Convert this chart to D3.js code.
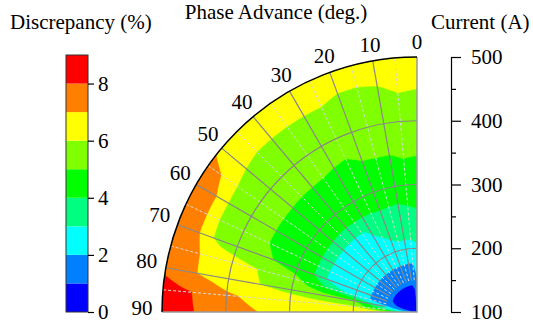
<!DOCTYPE html>
<html>
<head>
<meta charset="utf-8">
<script src="https://cdnjs.cloudflare.com/ajax/libs/d3/7.8.5/d3.min.js"></script>
<style>
  body { margin: 0; background: #fff; }
  svg text { font-family: "Liberation Serif", "Times New Roman", serif; fill: #000; }
</style>
</head>
<body>
<svg id="chart" width="533" height="326" font-family="Liberation Serif"></svg>
<script>
// phase advance angles (deg.) of the measured grid
const phaseAngles = [0, 5, 10, 15, 20, 25, 30, 35, 40, 45, 50, 55, 60, 65, 70, 75, 80, 85, 90];
// currents (A) of the measured grid
const currents = [100, 150, 200, 250, 275, 300, 350, 400, 425, 450, 475, 500];
// discrepancy (%) : one row per phase angle, one value per current
const discrepancy = [
    [1.4, 1.9, 2.85, 3.85, 4.15, 4.5, 5.05, 5.5, 5.75, 6.0, 6.25, 6.45],
    [0.5, 1.2, 2.7, 3.75, 4.1, 4.5, 5.1, 5.55, 5.8, 6.05, 6.3, 6.5],
    [0.4, 1.1, 2.75, 3.6, 4.05, 4.5, 5.0, 5.45, 5.7, 5.9, 6.15, 6.4],
    [0.4, 1.1, 2.8, 3.5, 4.1, 4.6, 5.0, 5.4, 5.65, 5.85, 6.1, 6.35],
    [0.4, 1.1, 2.8, 3.3, 4.2, 4.6, 4.98, 5.4, 5.65, 5.85, 6.1, 6.35],
    [0.4, 1.1, 2.8, 3.15, 4.15, 4.6, 4.85, 5.35, 5.7, 5.95, 6.2, 6.45],
    [0.4, 1.1, 2.8, 3.05, 4.15, 4.6, 4.9, 5.35, 5.7, 5.95, 6.2, 6.45],
    [0.4, 1.1, 2.8, 2.97, 4.15, 4.6, 4.95, 5.35, 5.7, 5.95, 6.2, 6.45],
    [0.4, 1.1, 2.8, 2.95, 4.1, 4.5, 4.95, 5.4, 5.7, 5.95, 6.2, 6.45],
    [0.4, 1.1, 2.8, 2.95, 4.1, 4.5, 4.95, 5.4, 5.7, 5.95, 6.2, 6.5],
    [0.4, 1.1, 2.8, 2.97, 4.15, 4.6, 4.95, 5.45, 5.75, 6.0, 6.3, 6.6],
    [0.4, 1.1, 2.8, 2.97, 4.15, 4.55, 4.95, 5.45, 5.7, 6.1, 7.0, 7.6],
    [0.45, 1.1, 2.8, 2.97, 4.15, 4.6, 4.95, 5.4, 5.6, 6.2, 7.7, 7.9],
    [0.45, 1.1, 2.8, 2.97, 4.15, 4.6, 4.95, 5.4, 5.6, 6.2, 7.7, 7.9],
    [0.5, 1.15, 2.75, 2.95, 4.15, 4.6, 5.1, 5.45, 5.65, 6.25, 7.7, 7.9],
    [0.5, 1.3, 2.6, 4.0, 4.7, 5.35, 5.9, 6.4, 6.7, 6.95, 7.4, 7.75],
    [0.5, 2.2, 5.1, 5.4, 5.55, 5.7, 6.0, 6.5, 6.75, 7.0, 7.4, 7.8],
    [0.5, 3.5, 6.05, 6.3, 6.4, 6.5, 6.75, 7.15, 7.5, 7.95, 8.2, 8.4],
    [0.8, 6.05, 6.2, 6.4, 6.5, 6.6, 7.0, 7.5, 7.75, 8.0, 8.3, 8.5]
];

// colour levels of the discrepancy scale
const levels = [0, 1, 2, 3, 4, 5, 6, 7, 8, 9];
const levelColors = ["#0000ff", "#0080ff", "#00ffff", "#00ff80", "#00ff00",
                     "#80ff00", "#ffff00", "#ff8000", "#ff0000"];
const colorbarTicks = [0, 2, 4, 6, 8];
const angleTicks = [0, 10, 20, 30, 40, 50, 60, 70, 80, 90];
const angleMinor = [5, 15, 25, 35, 45, 55, 65, 75, 85];
const currentTicks = [100, 200, 300, 400, 500];
const currentMinor = [150, 250, 350, 450];
const currentRings = [200, 300, 400];

const svg = d3.select("#chart");
const FONT = "Liberation Serif";

// polar frame : centre at bottom right, 0 deg straight up, 90 deg to the left
const cx = 417, cy = 312, R = 255;
const rScale = d3.scaleLinear().domain([100, 500]).range([0, R]);
const toRad = d => d * Math.PI / 180;
const polar = (deg, cur) => {
    const r = rScale(cur), a = toRad(deg);
    return [cx - r * Math.sin(a), cy - r * Math.cos(a)];
};

// grid index -> data value
const nA = phaseAngles.length, nI = currents.length;
const idxAngle = d3.scaleLinear().domain(d3.range(nA)).range(phaseAngles);
const idxCurrent = d3.scaleLinear().domain(d3.range(nI)).range(currents);

// flatten for d3.contours (x = angle index, y = current index)
let values = [];
for (let j = 0; j < nI; j++)
    for (let i = 0; i < nA; i++) values.push(discrepancy[i][j]);

let contours = d3.contours()
    .size([nA, nI])
    .thresholds(levels.slice(0, levelColors.length))(values);

// contour coords are pixel-edge based: sample i sits at i + 0.5
function project(p) {
    const a = Math.max(0, Math.min(nA - 1, p[0] - 0.5));
    const c = Math.max(0, Math.min(nI - 1, p[1] - 0.5));
    return polar(idxAngle(a), idxCurrent(c));
}

// densify each ring in grid space so straight grid edges bend into arcs
function ringPath(ring) {
    let pts = [];
    for (let k = 0; k < ring.length - 1; k++) {
        const p0 = ring[k], p1 = ring[k + 1];
        const n = Math.max(1, Math.ceil(Math.hypot(p1[0] - p0[0], p1[1] - p0[1]) / 0.05));
        for (let s = 0; s < n; s++) {
            const t = s / n;
            pts.push(project([p0[0] + (p1[0] - p0[0]) * t, p0[1] + (p1[1] - p0[1]) * t]));
        }
    }
    return "M" + pts.map(p => p[0].toFixed(2) + "," + p[1].toFixed(2)).join("L") + "Z";
}

// clip to the quarter disc
svg.append("clipPath").attr("id", "quarter")
    .append("path")
    .attr("d", `M${cx},${cy}L${cx},${cy - R}A${R},${R} 0 0 0 ${cx - R},${cy}Z`);

let plot = svg.append("g").attr("clip-path", "url(#quarter)");

plot.selectAll("path.band")
    .data(contours)
    .enter().append("path")
        .attr("class", "band")
        .attr("fill", (d, i) => levelColors[i])
        .attr("fill-rule", "evenodd")
        .attr("stroke", (d, i) => levelColors[i])
        .attr("stroke-width", 0.5)
        .attr("d", d => d.coordinates.map(poly => poly.map(ringPath).join("")).join(""));

// dashed spokes in between (grid starts at 150 A)
plot.selectAll("line.minor")
    .data(angleMinor)
    .enter().append("line")
        .attr("x1", d => polar(d, 150)[0])
        .attr("y1", d => polar(d, 150)[1])
        .attr("x2", d => polar(d, 500)[0])
        .attr("y2", d => polar(d, 500)[1])
        .attr("stroke", "#d8d8d8")
        .attr("stroke-width", 1)
        .attr("stroke-dasharray", "3,2");

// solid spokes
plot.selectAll("line.major")
    .data(angleTicks.slice(1, -1))
    .enter().append("line")
        .attr("x1", d => polar(d, 150)[0])
        .attr("y1", d => polar(d, 150)[1])
        .attr("x2", d => polar(d, 500)[0])
        .attr("y2", d => polar(d, 500)[1])
        .attr("stroke", "#888")
        .attr("stroke-width", 1.2);

// current rings
const ringArc = r => d3.arc().innerRadius(r).outerRadius(r)
    .startAngle(-Math.PI / 2).endAngle(0)();
plot.selectAll("path.ring")
    .data(currentRings)
    .enter().append("path")
        .attr("transform", `translate(${cx},${cy})`)
        .attr("d", d => ringArc(rScale(d)))
        .attr("fill", "none")
        .attr("stroke", "#888")
        .attr("stroke-width", 1.2);

// frame edges
svg.append("path")
    .attr("d", `M${cx - R},${cy}L${cx},${cy}L${cx},${cy - R}`)
    .attr("fill", "none").attr("stroke", "#999").attr("stroke-width", 1.5);
svg.append("path")
    .attr("transform", `translate(${cx},${cy})`)
    .attr("d", ringArc(R))
    .attr("fill", "none").attr("stroke", "#000").attr("stroke-width", 1.5);

// angle labels
svg.selectAll("text.ang")
    .data(angleTicks)
    .enter().append("text")
        .attr("font-family", FONT)
        .attr("x", d => cx - (R + 15 + 5 * d / 90) * Math.sin(toRad(d)))
        .attr("y", d => cy - (R + 15 + 5 * d / 90) * Math.cos(toRad(d)) - 4 * d / 90)
        .attr("dy", "0.33em")
        .attr("text-anchor", "middle")
        .attr("font-size", 21)
        .text(d => d);

// current axis on the right
const yCur = d3.scaleLinear().domain([100, 500]).range([cy, cy - R]);
svg.append("g")
    .attr("transform", "translate(451,0)")
    .call(d3.axisRight(yCur).tickValues(currentMinor).tickSize(5).tickSizeOuter(0).tickFormat(""))
    .call(g => g.select(".domain").remove());
let curAxis = svg.append("g")
    .attr("transform", "translate(451,0)")
    .call(d3.axisRight(yCur).tickValues(currentTicks).tickSize(10).tickSizeOuter(0).tickPadding(10));
curAxis.attr("font-family", FONT);
curAxis.selectAll("text").attr("font-size", 21).attr("font-family", FONT);
svg.selectAll(".tick line, .domain").attr("stroke", "#000").attr("stroke-width", 1.2);

// colour bar
const cb = d3.scaleLinear().domain([0, 9]).range([312, 55]);
svg.selectAll("rect.cb")
    .data(levelColors)
    .enter().append("rect")
        .attr("x", 66).attr("width", 22)
        .attr("y", (d, i) => cb(i + 1))
        .attr("height", (d, i) => cb(i) - cb(i + 1))
        .attr("fill", d => d);
svg.append("rect")
    .attr("x", 66).attr("y", 55).attr("width", 22).attr("height", 257)
    .attr("fill", "none").attr("stroke", "#333").attr("stroke-width", 1);
let cbAxis = svg.append("g")
    .attr("transform", "translate(88,0)")
    .call(d3.axisRight(cb).tickValues(colorbarTicks).tickSize(6).tickSizeOuter(0).tickPadding(4));
cbAxis.attr("font-family", FONT);
cbAxis.select(".domain").remove();
cbAxis.selectAll("text").attr("font-size", 21).attr("font-family", FONT);
cbAxis.selectAll(".tick line").attr("stroke", "#000").attr("stroke-width", 1.2);

// titles
svg.append("text").attr("font-family", FONT).attr("x", 10).attr("y", 29).attr("font-size", 21).text("Discrepancy (%)");
svg.append("text").attr("font-family", FONT).attr("x", 276).attr("y", 19).attr("text-anchor", "middle").attr("font-size", 21).text("Phase Advance (deg.)");
svg.append("text").attr("font-family", FONT).attr("x", 431).attr("y", 29).attr("font-size", 21).text("Current (A)");
</script>
</body>
</html>
